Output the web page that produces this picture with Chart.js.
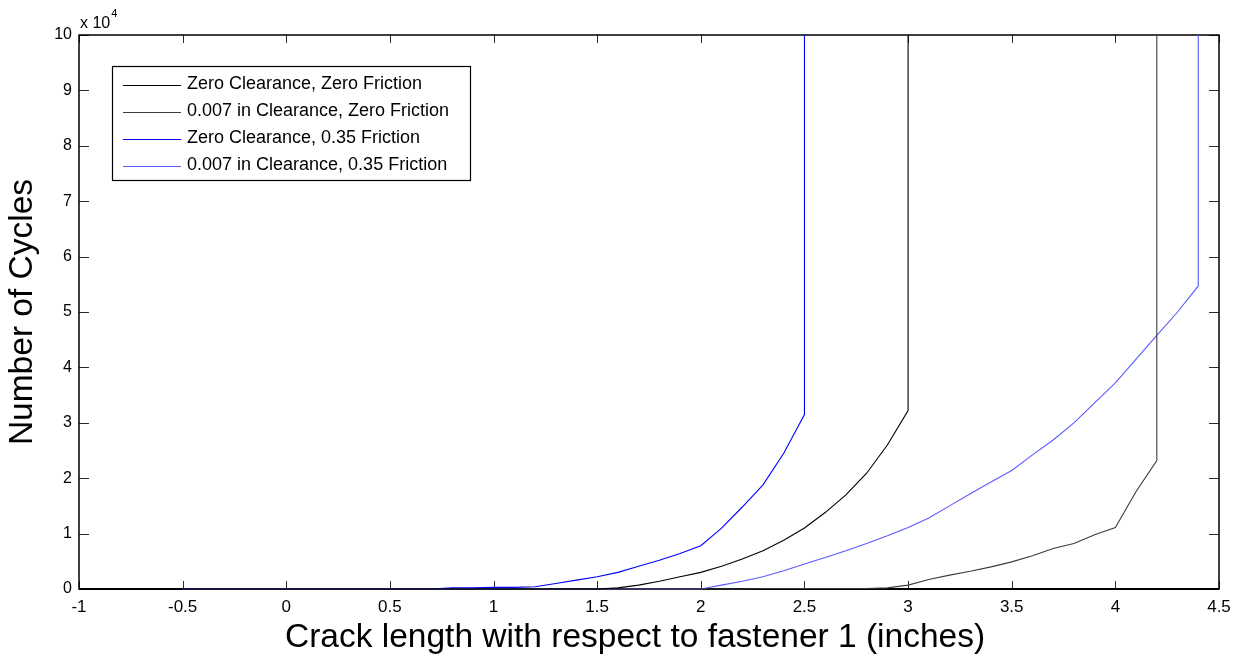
<!DOCTYPE html>
<html>
<head>
<meta charset="utf-8">
<script src="https://cdn.jsdelivr.net/npm/chart.js@4.4.0/dist/chart.umd.min.js"></script>
<style>
  html, body { margin: 0; padding: 0; background: #ffffff; }
  #wrap { width: 1243px; height: 660px; }
</style>
</head>
<body>
<div id="wrap"><canvas id="c" width="1243" height="660"></canvas></div>
<script>
// ---- Data ----
const seriesNames = [
  'Zero Clearance, Zero Friction',
  '0.007 in Clearance, Zero Friction',
  'Zero Clearance, 0.35 Friction',
  '0.007 in Clearance, 0.35 Friction'
];
// crack length (inches)
const s1X = [-0.5, 1.5, 1.6, 1.7, 1.8, 1.9, 2.0, 2.1, 2.2, 2.3, 2.4, 2.5, 2.6, 2.7, 2.8, 2.9, 3.0, 3.0];
const s1Y = [0, 0, 0.02, 0.07, 0.14, 0.22, 0.30, 0.41, 0.54, 0.69, 0.88, 1.10, 1.38, 1.70, 2.09, 2.60, 3.22, 10];

const s2X = [-0.5, 2.2, 2.3, 2.4, 2.5, 2.6, 2.7, 2.8, 2.9, 3.0, 3.1, 3.2, 3.3, 3.4, 3.5, 3.6, 3.7, 3.8, 3.9, 4.0, 4.1, 4.2, 4.2];
const s2Y = [0, 0, 0.01, 0.01, 0.01, 0.01, 0.01, 0.01, 0.02, 0.07, 0.17, 0.25, 0.32, 0.40, 0.49, 0.60, 0.73, 0.82, 0.98, 1.11, 1.76, 2.32, 10];

const s3X = [-0.5, 0.7, 0.8, 0.9, 1.0, 1.1, 1.2, 1.3, 1.4, 1.5, 1.6, 1.7, 1.8, 1.9, 2.0, 2.1, 2.2, 2.3, 2.4, 2.5, 2.5];
const s3Y = [0, 0, 0.02, 0.02, 0.03, 0.03, 0.04, 0.10, 0.16, 0.22, 0.30, 0.41, 0.52, 0.64, 0.78, 1.10, 1.48, 1.88, 2.45, 3.15, 10];

const s4X = [-0.5, 2.0, 2.1, 2.2, 2.3, 2.4, 2.5, 2.6, 2.7, 2.8, 2.9, 3.0, 3.1, 3.2, 3.3, 3.4, 3.5, 3.6, 3.7, 3.8, 3.9, 4.0, 4.1, 4.2, 4.3, 4.4, 4.4];
const s4Y = [0, 0, 0.07, 0.14, 0.22, 0.33, 0.45, 0.57, 0.69, 0.82, 0.96, 1.11, 1.28, 1.50, 1.72, 1.93, 2.14, 2.42, 2.69, 3.00, 3.36, 3.72, 4.15, 4.58, 5.00, 5.47, 10];

const xTickValues = [-1, -0.5, 0, 0.5, 1, 1.5, 2, 2.5, 3, 3.5, 4, 4.5];
const xTickLabels = ['-1', '-0.5', '0', '0.5', '1', '1.5', '2', '2.5', '3', '3.5', '4', '4.5'];
const yTickValues = [0, 1, 2, 3, 4, 5, 6, 7, 8, 9, 10];
const yTickLabels = ['0', '1', '2', '3', '4', '5', '6', '7', '8', '9', '10'];
const yExponentBase = 'x 10';
const yExponent = '4';

const xTitle = 'Crack length with respect to fastener 1 (inches)';
const yTitle = 'Number of Cycles';

// ---- Styles ----
const FONT = "'Liberation Sans', Arial, Helvetica, sans-serif";
const colors = ['#000000', '#3c3c3c', '#0000ff', '#5a5aff'];

function pts(xs, ys) { return xs.map((x, i) => ({ x: x, y: ys[i] })); }

const datasets = [
  { label: seriesNames[0], data: pts(s1X, s1Y) },
  { label: seriesNames[1], data: pts(s2X, s2Y) },
  { label: seriesNames[2], data: pts(s3X, s3Y) },
  { label: seriesNames[3], data: pts(s4X, s4Y) }
].map((d, i) => Object.assign(d, {
  borderColor: colors[i],
  backgroundColor: colors[i],
  borderWidth: 1.1,
  pointRadius: 0,
  pointHoverRadius: 0,
  showLine: true,
  tension: 0,
  fill: false,
  clip: { left: 1, top: 0, right: 1, bottom: 2 }
}));

// Frame, inward tick marks, exponent label and boxed legend (MATLAB style)
const matlabDecor = {
  id: 'matlabDecor',
  beforeDatasetsDraw(chart) {
    const ctx = chart.ctx;
    const a = chart.chartArea;
    const xs = chart.scales.x, ys = chart.scales.y;
    ctx.save();
    // inward ticks
    ctx.strokeStyle = '#2a2a2a';
    ctx.lineWidth = 1;
    const tl = 8;
    xTickValues.forEach(v => {
      const px = Math.round(xs.getPixelForValue(v)) + 0.5;
      ctx.beginPath();
      ctx.moveTo(px, a.bottom); ctx.lineTo(px, a.bottom - tl);
      ctx.moveTo(px, a.top); ctx.lineTo(px, a.top + tl);
      ctx.stroke();
    });
    yTickValues.forEach(v => {
      const py = Math.round(ys.getPixelForValue(v)) + 0.5;
      ctx.beginPath();
      ctx.moveTo(a.left, py); ctx.lineTo(a.left + tl + 2, py);
      ctx.moveTo(a.right, py); ctx.lineTo(a.right - tl - 2, py);
      ctx.stroke();
    });
    // frame
    ctx.strokeStyle = '#000000';
    ctx.lineWidth = 1.5;
    ctx.strokeRect(a.left, a.top, a.right - a.left, a.bottom - a.top);
    ctx.lineWidth = 2;
    ctx.beginPath();
    ctx.moveTo(a.left, a.bottom); ctx.lineTo(a.right, a.bottom);
    ctx.stroke();
    ctx.restore();
  },
  afterDatasetsDraw(chart) {
    const ctx = chart.ctx;
    const a = chart.chartArea;
    ctx.save();
    // exponent label "x 10^4"
    ctx.fillStyle = '#000000';
    ctx.textBaseline = 'alphabetic';
    ctx.textAlign = 'left';
    ctx.font = '16px ' + FONT;
    ctx.fillText(yExponentBase, a.left + 1, a.top - 7);
    const w = ctx.measureText(yExponentBase).width;
    ctx.font = '11px ' + FONT;
    ctx.fillText(yExponent, a.left + 1 + w + 1, a.top - 18);

    // legend box
    const lx = 112, ly = 66, lw = 358, lh = 114;
    ctx.fillStyle = '#ffffff';
    ctx.fillRect(lx, ly, lw, lh);
    ctx.strokeStyle = '#000000';
    ctx.lineWidth = 1.2;
    ctx.strokeRect(lx + 0.5, ly + 0.5, lw, lh);
    ctx.font = '18px ' + FONT;
    ctx.textBaseline = 'middle';
    chart.data.datasets.forEach((d, i) => {
      const cy = 84.5 + i * 27;
      ctx.strokeStyle = d.borderColor;
      ctx.lineWidth = 1.1;
      ctx.beginPath();
      ctx.moveTo(123, Math.round(cy) + 0.5);
      ctx.lineTo(181, Math.round(cy) + 0.5);
      ctx.stroke();
      ctx.fillStyle = '#000000';
      ctx.fillText(d.label, 187, cy);
    });
    ctx.restore();
  }
};

new Chart(document.getElementById('c'), {
  type: 'scatter',
  data: { datasets: datasets },
  options: {
    responsive: false,
    devicePixelRatio: 1,
    animation: false,
    events: [],
    layout: { padding: { top: 35, right: 24, left: 0, bottom: 0 } },
    plugins: {
      legend: { display: false },
      tooltip: { enabled: false },
      title: { display: false }
    },
    scales: {
      x: {
        type: 'linear',
        min: -1, max: 4.5,
        afterBuildTicks: s => { s.ticks = xTickValues.map(v => ({ value: v })); },
        afterFit: s => { s.height = 71; },
        grid: { display: false, drawTicks: false },
        border: { display: false },
        ticks: {
          autoSkip: false, maxRotation: 0, padding: 8,
          color: '#000000',
          font: { family: FONT, size: 17 },
          callback: (v, i) => xTickLabels[i]
        },
        title: {
          display: true,
          text: xTitle + '   ',
          color: '#000000',
          font: { family: FONT, size: 33.5 },
          padding: { top: 0, bottom: 2 }
        }
      },
      y: {
        type: 'linear',
        min: 0, max: 10,
        afterBuildTicks: s => { s.ticks = yTickValues.map(v => ({ value: v })); },
        afterFit: s => { s.width = 79; },
        grid: { display: false, drawTicks: false },
        border: { display: false },
        ticks: {
          autoSkip: false, padding: 7,
          color: '#000000',
          font: { family: FONT, size: 16 },
          callback: (v, i) => yTickLabels[i]
        },
        title: {
          display: true,
          text: yTitle,
          color: '#000000',
          font: { family: FONT, size: 33.5 },
          padding: { top: 3, bottom: 0 }
        }
      }
    }
  },
  plugins: [matlabDecor]
});
</script>
</body>
</html>
